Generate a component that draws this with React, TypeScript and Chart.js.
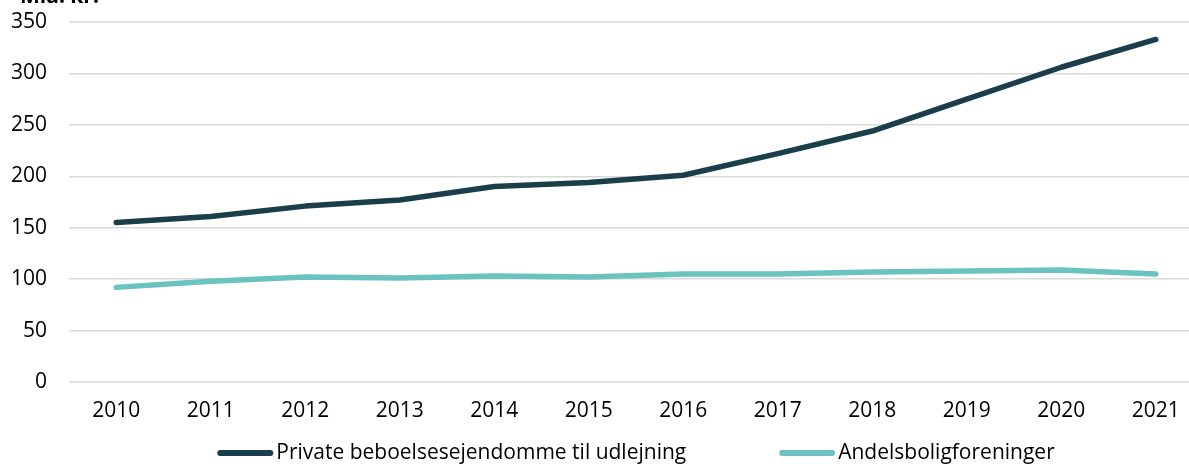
import React, { useEffect, useRef } from "react";
import { Chart, registerables } from "chart.js";

Chart.register(...registerables);

const years = ["2010", "2011", "2012", "2013", "2014", "2015", "2016", "2017", "2018", "2019", "2020", "2021"];
const privateRental = [155, 161, 171, 177, 190, 194, 201, 222, 244, 275, 306, 333];
const cooperatives = [92, 98, 102, 101, 103, 102, 105, 105, 107, 108, 109, 105];
const seriesNames = ["Private beboelsesejendomme til udlejning", "Andelsboligforeninger"];
const unitLabel = "Mia. kr.";

const DARK = "#1b3f4a";
const TEAL = "#6ac3bf";
const FONT = "'Open Sans', 'Noto Sans', sans-serif";
const FS = 21;

const extrasPlugin = {
  id: "extras",
  afterDraw(chart: any) {
    const ctx = chart.ctx as CanvasRenderingContext2D;
    const area = chart.chartArea;
    ctx.save();
    ctx.font = `bold ${FS}px ${FONT}`;
    ctx.fillStyle = "#000";
    ctx.textAlign = "left";
    ctx.textBaseline = "alphabetic";
    ctx.fillText(unitLabel, 20, 3);
    ctx.font = `${FS}px ${FONT}`;
    const sw = 56;
    const gapText = 3;
    const gapItem = 93;
    const ds = chart.data.datasets;
    const widths = ds.map((d: any) => sw + gapText + ctx.measureText(d.label).width);
    const total = widths.reduce((a: number, b: number) => a + b, 0) + gapItem * (ds.length - 1);
    let x = (area.left + area.right) / 2 - total / 2;
    const y = 453;
    ds.forEach((d: any, i: number) => {
      ctx.strokeStyle = d.borderColor;
      ctx.lineWidth = 6;
      ctx.lineCap = "round";
      ctx.beginPath();
      ctx.moveTo(x + 3, y);
      ctx.lineTo(x + sw - 3, y);
      ctx.stroke();
      ctx.fillStyle = "#000";
      ctx.textBaseline = "middle";
      ctx.fillText(d.label, x + sw + gapText, y);
      x += widths[i] + gapItem;
    });
    ctx.restore();
  },
};

export default function App() {
  const ref = useRef<HTMLCanvasElement | null>(null);
  useEffect(() => {
    if (!ref.current) return;
    const common = {
      borderWidth: 5.5,
      pointRadius: 0,
      tension: 0,
      borderCapStyle: "round" as const,
      borderJoinStyle: "round" as const,
    };
    const chart = new Chart(ref.current, {
      type: "line",
      data: {
        labels: years,
        datasets: [
          { label: seriesNames[0], data: privateRental, borderColor: DARK, backgroundColor: DARK, ...common },
          { label: seriesNames[1], data: cooperatives, borderColor: TEAL, backgroundColor: TEAL, ...common },
        ],
      },
      options: {
        responsive: false,
        animation: false,
        layout: { padding: { top: 22, left: 0, right: 0, bottom: 34 } },
        plugins: {
          legend: { display: false },
          tooltip: { enabled: false },
          title: { display: false },
        },
        scales: {
          x: {
            offset: true,
            grid: { display: false, drawTicks: false },
            border: { display: false },
            ticks: {
              color: "#000",
              font: { family: FONT, size: FS },
              padding: 16,
              maxRotation: 0,
            },
            afterFit(scale: any) {
              scale.height = 50;
            },
          },
          y: {
            min: 0,
            max: 350,
            grid: { color: "#d9d9d9", lineWidth: 1.5, drawTicks: false },
            border: { display: false },
            ticks: {
              stepSize: 50,
              color: "#000",
              font: { family: FONT, size: FS },
              padding: 22,
            },
            afterFit(scale: any) {
              scale.width = 69;
              scale.paddingTop = 12;
              scale.paddingBottom = 12;
            },
          },
        },
      },
      plugins: [extrasPlugin],
    });
    return () => chart.destroy();
  }, []);
  return (
    <div style={{ position: "fixed", left: 0, top: 0, width: 1189, height: 466, overflow: "hidden", background: "#fff" }}>
      <canvas ref={ref} width={1203} height={466} style={{ display: "block" }} />
    </div>
  );
}
